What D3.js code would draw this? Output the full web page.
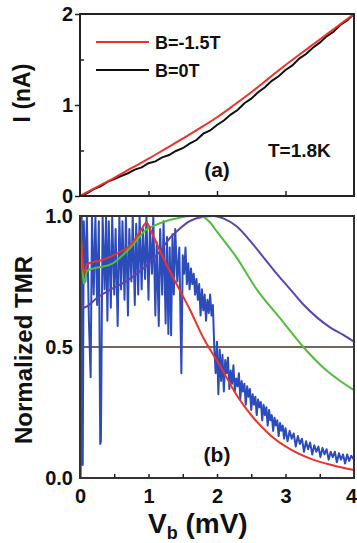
<!DOCTYPE html>
<html><head><meta charset="utf-8">
<script src="https://cdn.jsdelivr.net/npm/d3@7"></script>
<style>body{margin:0;background:#fff}text{font-family:"Liberation Sans",Arial,sans-serif;font-weight:bold;fill:#111}</style>
</head><body><svg id="c" width="357" height="543"></svg>
<script>
// ---- Panel (a): I-V ----
const ivRedV = [0,0.25,0.5,0.75,1.0,1.25,1.5,1.75,2.0,2.25,2.5,2.75,3.0,3.25,3.5,3.75,4.0];
const ivRedI = [0,0.10,0.20,0.305,0.41,0.52,0.63,0.745,0.865,1.0,1.14,1.29,1.44,1.58,1.72,1.86,2.0];
const ivBlackV = [0,0.1,0.2,0.3,0.4,0.5,0.6,0.7,0.8,0.9,1.0,1.1,1.2,1.3,1.4,1.5,1.6,1.7,1.8,1.9,2.0,2.1,2.2,2.3,2.4,2.5,2.6,2.7,2.8,2.9,3.0,3.1,3.2,3.3,3.4,3.5,3.6,3.7,3.8,3.9,4.0];
const ivBlackI = [0,0.03,0.075,0.105,0.155,0.185,0.22,0.25,0.29,0.315,0.36,0.38,0.425,0.45,0.495,0.525,0.575,0.615,0.685,0.72,0.78,0.83,0.895,0.945,1.02,1.07,1.14,1.195,1.265,1.315,1.385,1.435,1.51,1.56,1.63,1.685,1.755,1.805,1.88,1.93,2.0];
const ivYTicks = [0,1,2];
const ivLegend = ["B=-1.5T","B=0T"];

// ---- Panel (b): Normalized TMR ----
const redV = [0,0.02,0.06,0.1,0.2,0.3,0.45,0.6,0.7,0.8,0.9,0.97,1.05,1.18,1.31,1.45,1.6,1.8,2.04,2.29,2.53,2.77,3.1,3.4,3.7,4.0];
const redT = [1.0,0.9,0.78,0.815,0.825,0.83,0.845,0.865,0.88,0.91,0.95,0.975,0.935,0.86,0.79,0.72,0.645,0.535,0.43,0.315,0.23,0.165,0.105,0.07,0.048,0.03];
const greenV = [0,0.02,0.06,0.1,0.2,0.3,0.45,0.6,0.7,0.85,0.95,1.1,1.25,1.4,1.6,1.75,1.9,2.0,2.29,2.58,2.92,3.26,3.6,3.8,4.0];
const greenT = [1.0,0.88,0.74,0.79,0.8,0.805,0.815,0.845,0.87,0.915,0.945,0.965,0.98,0.99,1.0,1.0,0.975,0.94,0.84,0.72,0.61,0.5,0.41,0.37,0.335];
const purpleV = [0,0.05,0.26,0.45,0.7,0.95,1.18,1.31,1.45,1.6,1.8,1.95,2.1,2.29,2.5,2.67,2.87,3.07,3.25,3.45,3.65,3.85,4.0];
const purpleT = [0.76,0.65,0.69,0.72,0.755,0.805,0.87,0.915,0.95,0.98,0.997,1.0,0.99,0.96,0.9,0.845,0.78,0.72,0.665,0.615,0.575,0.545,0.52];
// blue (measured, noisy): low-bias part, mid part, high-bias tail
const blueLowV = [0,0.01,0.025,0.04,0.055,0.08,0.1,0.13,0.155,0.175,0.2,0.225,0.25,0.275,0.295,0.305,0.33,0.36,0.38,0.4,0.42,0.45,0.47,0.5,0.52,0.55,0.575,0.6,0.62,0.65,0.67,0.7,0.72,0.75,0.77,0.8,0.82,0.85,0.87,0.9,0.92,0.95,0.97,1.0,1.02,1.05,1.07,1.1,1.12,1.15,1.17,1.2,1.22,1.25,1.27,1.29,1.31,1.33,1.35,1.37,1.39,1.42,1.45,1.48];
const blueLowT = [1.0,0.0,1.0,0.05,0.98,0.75,1.0,0.6,0.385,1.0,0.7,1.0,0.66,0.98,0.13,0.14,1.0,0.72,1.0,0.6,0.98,0.65,1.0,0.7,0.95,0.58,1.0,0.72,0.98,0.68,1.0,0.62,0.95,0.75,1.0,0.66,0.97,0.7,1.0,0.72,0.95,0.76,1.0,0.68,0.95,0.78,1.0,0.62,0.9,0.58,0.95,0.7,0.98,0.59,0.92,0.55,0.88,0.545,0.93,0.7,0.95,0.75,0.88,0.4];
const blueMidV = [1.5,1.52,1.54,1.56,1.58,1.6,1.62,1.64,1.66,1.68,1.7,1.72,1.74,1.76,1.78,1.8,1.82,1.84,1.86,1.88,1.9,1.92,1.94,1.96,1.98];
const blueMidT = [0.85,0.78,0.88,0.74,0.82,0.72,0.8,0.74,0.78,0.7,0.76,0.68,0.74,0.62,0.72,0.64,0.7,0.6,0.68,0.63,0.7,0.62,0.66,0.5,0.4];
const blueHighV = [2.0,2.02,2.04,2.06,2.08,2.1,2.12,2.14,2.16,2.18,2.2,2.22,2.24,2.26,2.28,2.3,2.32,2.34,2.36,2.38,2.4,2.42,2.44,2.46,2.48,2.5,2.52,2.54,2.56,2.58,2.6,2.62,2.64,2.66,2.68,2.7,2.72,2.74,2.76,2.78,2.8,2.82,2.84,2.86,2.88,2.9,2.92,2.94,2.96,2.98,3.0,3.03,3.06,3.09,3.12,3.15,3.18,3.21,3.24,3.27,3.3,3.33,3.36,3.39,3.42,3.45,3.48,3.51,3.54,3.57,3.6,3.63,3.66,3.69,3.72,3.75,3.78,3.81,3.84,3.87,3.9,3.93,3.96,4.0];
const blueHighT = [0.52,0.32,0.49,0.37,0.47,0.33,0.45,0.40,0.46,0.34,0.41,0.36,0.43,0.33,0.38,0.35,0.40,0.30,0.37,0.33,0.36,0.28,0.35,0.31,0.34,0.26,0.32,0.28,0.31,0.24,0.30,0.27,0.29,0.22,0.28,0.24,0.27,0.20,0.26,0.22,0.24,0.18,0.23,0.20,0.22,0.16,0.21,0.18,0.20,0.15,0.19,0.14,0.18,0.15,0.17,0.12,0.16,0.13,0.15,0.10,0.14,0.11,0.135,0.09,0.125,0.10,0.12,0.08,0.115,0.09,0.11,0.07,0.10,0.08,0.10,0.06,0.095,0.07,0.09,0.055,0.09,0.065,0.085,0.07];
const tmrYTicks = [0,0.5,1.0];
const xTicks = [0,1,2,3,4];

const svg = d3.select("#c");
svg.append("rect").attr("width",357).attr("height",543).attr("fill","#fff");

const x = d3.scaleLinear().domain([0,4]).range([80,354]);
const yA = d3.scaleLinear().domain([0,2]).range([196,14]);
const yB = d3.scaleLinear().domain([0,1]).range([478,216]);

const defs = svg.append("defs");
defs.append("clipPath").attr("id","clipA").append("rect").attr("x",80).attr("y",14).attr("width",274).attr("height",182);
defs.append("clipPath").attr("id","clipB").append("rect").attr("x",80).attr("y",215).attr("width",274).attr("height",263);

function series(xs, ys){ const n = Math.min(xs.length, ys.length); return xs.slice(0,n).map((v,i)=>[v, ys[i]]); }

// ---------- Panel a ----------
const gA = svg.append("g");
const lineA = d3.line().x(d=>x(d[0])).y(d=>yA(d[1]));
gA.append("path").datum(series(ivBlackV, ivBlackI)).attr("clip-path","url(#clipA)")
  .attr("d", lineA).attr("fill","none").attr("stroke","#111").attr("stroke-width",2);
gA.append("path").datum(series(ivRedV, ivRedI)).attr("clip-path","url(#clipA)")
  .attr("d", lineA.curve(d3.curveMonotoneX)).attr("fill","none").attr("stroke","#ee3229").attr("stroke-width",2);

gA.append("rect").attr("x",80).attr("y",14).attr("width",274).attr("height",182)
  .attr("fill","none").attr("stroke","#222").attr("stroke-width",2);

const axAL = gA.append("g").attr("transform","translate(80,0)")
  .call(d3.axisLeft(yA).tickValues(ivYTicks).tickSize(5).tickFormat(d3.format("d")));
axAL.select(".domain").remove();
axAL.selectAll("line").attr("stroke","#222").attr("stroke-width",1.5);
axAL.selectAll("text").attr("font-size",20).attr("font-family","Liberation Sans").attr("font-weight","bold").attr("fill","#111").attr("x",-7);
gA.append("g").attr("transform","translate(80,0)")
  .call(d3.axisRight(yA).tickValues([0.5,1.5]).tickSize(4).tickFormat(""))
  .call(g=>{g.select(".domain").remove(); g.selectAll("line").attr("stroke","#222").attr("stroke-width",1.5);});
gA.append("g").attr("transform","translate(0,196)")
  .call(d3.axisTop(x).tickValues([1,2,3]).tickSize(5).tickFormat(""))
  .call(g=>{g.select(".domain").remove(); g.selectAll("line").attr("stroke","#222").attr("stroke-width",1.5);});

// legend
const legColors = ["#ee3229","#111"];
ivLegend.forEach((t,i)=>{
  const yy = 42 + i*28;
  gA.append("line").attr("x1",96).attr("x2",149).attr("y1",yy).attr("y2",yy)
    .attr("stroke",legColors[i]).attr("stroke-width",2);
  gA.append("text").attr("x",155).attr("y",yy+7).attr("font-size",18).text(t);
});
gA.append("text").attr("x",268).attr("y",157).attr("font-size",19).text("T=1.8K");
gA.append("text").attr("x",217).attr("y",177).attr("font-size",21).attr("text-anchor","middle").text("(a)");

gA.append("text").attr("transform","translate(30,93) rotate(-90)").attr("text-anchor","middle")
  .attr("font-size",23).text("I (nA)");

// ---------- Panel b ----------
const gB = svg.append("g");
const lineB = d3.line().x(d=>x(d[0])).y(d=>yB(d[1]));
const lineBs = d3.line().x(d=>x(d[0])).y(d=>yB(d[1])).curve(d3.curveMonotoneX);

gB.append("line").attr("x1",80).attr("x2",354).attr("y1",yB(0.5)).attr("y2",yB(0.5))
  .attr("stroke","#4a3222").attr("stroke-width",1.5);

const blueData = series(blueLowV, blueLowT).concat(series(blueMidV, blueMidT), series(blueHighV, blueHighT));
gB.append("path").datum(blueData).attr("clip-path","url(#clipB)")
  .attr("d", lineB).attr("fill","none").attr("stroke","#2c4cbc").attr("stroke-width",2).attr("stroke-linejoin","round");
gB.append("path").datum(series(purpleV, purpleT)).attr("clip-path","url(#clipB)")
  .attr("d", lineBs).attr("fill","none").attr("stroke","#5a44b2").attr("stroke-width",2);
gB.append("path").datum(series(greenV, greenT)).attr("clip-path","url(#clipB)")
  .attr("d", lineBs).attr("fill","none").attr("stroke","#52bd3c").attr("stroke-width",2);
gB.append("path").datum(series(redV, redT)).attr("clip-path","url(#clipB)")
  .attr("d", lineBs).attr("fill","none").attr("stroke","#ee3229").attr("stroke-width",2);

gB.append("rect").attr("x",80).attr("y",216).attr("width",274).attr("height",262)
  .attr("fill","none").attr("stroke","#333").attr("stroke-width",2);

const axBL = gB.append("g").attr("transform","translate(80,0)")
  .call(d3.axisLeft(yB).tickValues(tmrYTicks).tickSize(0).tickFormat(d3.format(".1f")));
axBL.select(".domain").remove();
axBL.selectAll("text").attr("font-size",20).attr("font-family","Liberation Sans").attr("font-weight","bold").attr("fill","#111").attr("x",-7);

const axBB = gB.append("g").attr("transform","translate(0,478)")
  .call(d3.axisBottom(x).tickValues(xTicks).tickSize(0).tickFormat(d3.format("d")));
axBB.select(".domain").remove();
axBB.selectAll("text").attr("font-size",20).attr("font-family","Liberation Sans").attr("font-weight","bold").attr("fill","#111").attr("dy",0).attr("y",25)
  .attr("x", d => d === 4 ? -3 : 0);
gB.append("g").attr("transform","translate(0,478)")
  .call(d3.axisTop(x).tickValues([0.5,1,1.5,2,2.5,3,3.5]).tickSize(4).tickFormat(""))
  .call(g=>{g.select(".domain").remove(); g.selectAll("line").attr("stroke","#222").attr("stroke-width",1.5);});

gB.append("text").attr("x",217).attr("y",462).attr("font-size",21).attr("text-anchor","middle").text("(b)");

gB.append("text").attr("transform","translate(32,350) rotate(-90)").attr("text-anchor","middle")
  .attr("font-size",24).text("Normalized TMR");

const xl = gB.append("text").attr("x",148).attr("y",533).attr("font-size",28);
xl.append("tspan").text("V");
xl.append("tspan").attr("font-size",18).attr("dy",6).text("b");
xl.append("tspan").attr("dy",-6).text(" (mV)");
</script></body></html>
